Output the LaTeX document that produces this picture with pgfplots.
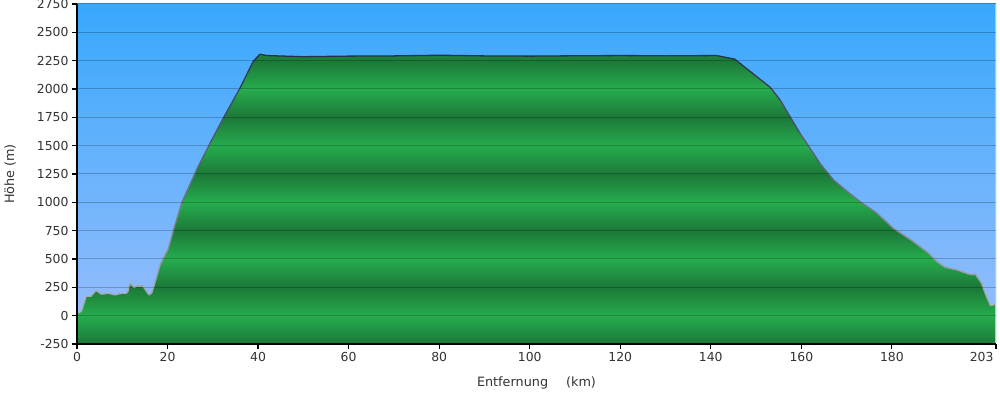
\documentclass[border=0pt]{standalone}
\usepackage{fontspec}
\setmainfont{DejaVu Sans}
\usepackage{pgfplots}
\usepackage{pgfplotstable}
\pgfplotsset{compat=1.18}

\definecolor{bgtop}{RGB}{56,168,252}
\definecolor{bgbot}{RGB}{156,190,252}
\definecolor{gd}{RGB}{28,120,56}
\definecolor{gb}{RGB}{38,172,78}
\definecolor{txt}{RGB}{51,51,51}
\definecolor{edge}{RGB}{150,230,150}

% vertical bands: path bbox y from -250 to 2307 mapped onto 25bp..75bp
\pgfdeclareverticalshading{bands}{100bp}{%
color(0bp)=(gb);
color(25bp)=(gd);
color(29.8885bp)=(gb);
color(34.777bp)=(gd);
color(39.6655bp)=(gb);
color(44.554bp)=(gd);
color(49.4425bp)=(gb);
color(54.331bp)=(gd);
color(59.2195bp)=(gb);
color(64.108bp)=(gd);
color(68.9965bp)=(gb);
color(73.885bp)=(gd);
color(78.7735bp)=(gb);
color(100bp)=(gb)}

\pgfplotstableread{
x y
0 20
0.4 26
1.0 40
2.0 168
3.0 168
4.2 221
5.4 189
6.9 198
8.4 183
9.9 198
10.8 198
11.2 206
11.7 286
12.6 247
13.3 262
14.5 262
15.9 183
16.5 198
17.2 286
18.3 440
19.1 507
20.2 595
21.3 756
23.1 992
26.4 1286
29.4 1522
32.3 1742
36.0 2007
38.9 2242
40.4 2307
41.9 2295
50 2285
60 2290
70 2292
80 2298
90 2292
100 2290
110 2293
120 2295
130 2293
141.3 2295
145.3 2263
149.4 2133
153.1 2016
155.3 1904
159.7 1610
164.1 1345
167.1 1198
169.3 1124
173.0 1006
176.7 904
180.3 771
184.7 653
188.1 551
189.9 477
191.7 427
194.3 404
196.9 368
198.0 360
198.4 368
199.8 286
200.6 198
201.7 95
202.4 95
203 103
}\profile

\pgfplotstableread{
x y
0 -250
0 20
0.4 26
1.0 40
2.0 168
3.0 168
4.2 221
5.4 189
6.9 198
8.4 183
9.9 198
10.8 198
11.2 206
11.7 286
12.6 247
13.3 262
14.5 262
15.9 183
16.5 198
17.2 286
18.3 440
19.1 507
20.2 595
21.3 756
23.1 992
26.4 1286
29.4 1522
32.3 1742
36.0 2007
38.9 2242
40.4 2307
41.9 2295
50 2285
60 2290
70 2292
80 2298
90 2292
100 2290
110 2293
120 2295
130 2293
141.3 2295
145.3 2263
149.4 2133
153.1 2016
155.3 1904
159.7 1610
164.1 1345
167.1 1198
169.3 1124
173.0 1006
176.7 904
180.3 771
184.7 653
188.1 551
189.9 477
191.7 427
194.3 404
196.9 368
198.0 360
198.4 368
199.8 286
200.6 198
201.7 95
202.4 95
203 103
203 -250
}\profilefill

\begin{document}
\begin{tikzpicture}
\useasboundingbox (-77bp,-50bp) rectangle (923bp,344bp);
\begin{axis}[
  scale only axis,
  width=919bp, height=340bp,
  xmin=0, xmax=203, ymin=-250, ymax=2750,
  xtick={0,20,...,180},
  extra x ticks={203},
  extra x tick style={xticklabel style={anchor=north east, xshift=1bp}},
  ytick={-250,0,...,2750},
  axis x line*=bottom, axis y line*=left,
  axis line style={black, line width=1.6bp},
  tick align=outside,
  major tick length=5bp,
  tick style={black, line width=1.2bp},
  ymajorgrids,
  major grid style={black, opacity=0.22, line width=1bp},
  axis on top,
  axis background/.style={shade, top color=bgtop, bottom color=bgbot},
  /pgf/number format/assume math mode=true,
  /pgf/number format/1000 sep={},
  tick label style={font=\fontsize{12.4bp}{14bp}\selectfont, text=txt},
  label style={font=\fontsize{12.8bp}{15bp}\selectfont, text=txt},
  xlabel={Entfernung\hspace{18bp}(km)},
  ylabel={Höhe (m)},
  xlabel style={at={(axis description cs:0.5,-0.1132)}, anchor=center},
  ylabel style={at={(axis description cs:-0.0729,0.5)}, anchor=center},
  clip=true,
]
\addplot[draw=none, shading=bands] table[x=x,y=y] {\profilefill};
\addplot[mesh, point meta=\thisrow{y}, point meta min=0, point meta max=2307,
  colormap={profcol}{rgb255=(178,178,180) rgb255=(38,48,78)},
  line width=1.3bp] table[x=x,y=y] {\profile};
\draw[edge, line width=1.2bp] (rel axis cs:1,0) -- (rel axis cs:1,1);
\end{axis}
\end{tikzpicture}
\end{document}
